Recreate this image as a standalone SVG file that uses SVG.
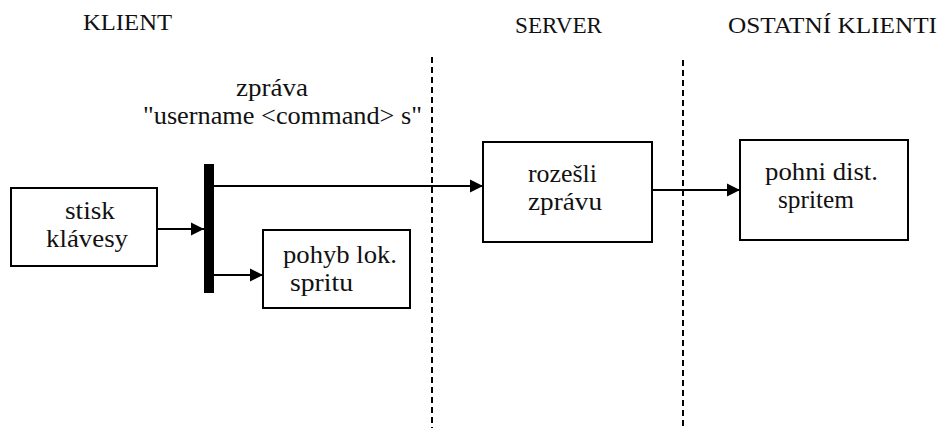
<svg xmlns="http://www.w3.org/2000/svg" width="944" height="428" viewBox="0 0 944 428">
  <style>
    .lbl { font-family: "Liberation Serif", "Times New Roman", serif; fill: #111; }
    .head { font-size: 24px; }
    .body { font-size: 26px; }
    .box { fill: #fff; stroke: #000; stroke-width: 2; }
    .edge { fill: none; stroke: #000; stroke-width: 1.8; }
    .lane { fill: none; stroke: #000; stroke-width: 2; stroke-dasharray: 6 4; }
  </style>
  <defs>
    <marker id="arrow" markerUnits="userSpaceOnUse" markerWidth="16" markerHeight="16" viewBox="0 0 16 16" refX="14" refY="8" orient="auto">
      <path d="M1,1.5 L14,8 L1,14.5 Z" fill="#000"/>
    </marker>
  </defs>

  <rect width="944" height="428" fill="#fff"/>

  <!-- lane headings and separators -->
  <g id="lanes">
    <text class="lbl head" x="83" y="30" textLength="89" lengthAdjust="spacingAndGlyphs">KLIENT</text>
    <text class="lbl head" x="515" y="33" textLength="87" lengthAdjust="spacingAndGlyphs">SERVER</text>
    <text class="lbl head" x="728" y="33" textLength="209" lengthAdjust="spacingAndGlyphs">OSTATNÍ KLIENTI</text>
    <line class="lane" x1="432" y1="57" x2="432" y2="428"/>
    <line class="lane" x1="683" y1="60" x2="683" y2="428"/>
  </g>

  <!-- message label -->
  <g id="message">
    <text class="lbl body" x="236" y="96" textLength="72" lengthAdjust="spacingAndGlyphs">zpráva</text>
    <text class="lbl body" x="143" y="124" textLength="279" lengthAdjust="spacingAndGlyphs">"username &lt;command&gt; s"</text>
  </g>

  <!-- connectors -->
  <g id="connectors">
    <line class="edge" x1="157" y1="229" x2="204" y2="229" marker-end="url(#arrow)"/>
    <line class="edge" x1="214" y1="186" x2="483" y2="186" marker-end="url(#arrow)"/>
    <line class="edge" x1="214" y1="275" x2="263" y2="275" marker-end="url(#arrow)"/>
    <line class="edge" x1="652" y1="190" x2="740" y2="190" marker-end="url(#arrow)"/>
  </g>

  <!-- fork bar -->
  <g id="fork">
    <rect x="204" y="164" width="10" height="129" fill="#000"/>
  </g>

  <g id="keypress">
    <rect class="box" x="11" y="188" width="146" height="78"/>
    <text class="lbl body" x="65" y="219" textLength="50" lengthAdjust="spacingAndGlyphs">stisk</text>
    <text class="lbl body" x="46" y="247" textLength="82" lengthAdjust="spacingAndGlyphs">klávesy</text>
  </g>

  <g id="local-move">
    <rect class="box" x="263" y="230" width="147" height="78"/>
    <text class="lbl body" x="283" y="263" textLength="114" lengthAdjust="spacingAndGlyphs">pohyb lok.</text>
    <text class="lbl body" x="290" y="291" textLength="63" lengthAdjust="spacingAndGlyphs">spritu</text>
  </g>

  <g id="broadcast">
    <rect class="box" x="483" y="142" width="169" height="100"/>
    <text class="lbl body" x="528" y="182" textLength="69" lengthAdjust="spacingAndGlyphs">rozešli</text>
    <text class="lbl body" x="528" y="210" textLength="74" lengthAdjust="spacingAndGlyphs">zprávu</text>
  </g>

  <g id="remote-move">
    <rect class="box" x="740" y="140" width="168" height="100"/>
    <text class="lbl body" x="765" y="180" textLength="113" lengthAdjust="spacingAndGlyphs">pohni dist.</text>
    <text class="lbl body" x="778" y="208" textLength="76" lengthAdjust="spacingAndGlyphs">spritem</text>
  </g>
</svg>
